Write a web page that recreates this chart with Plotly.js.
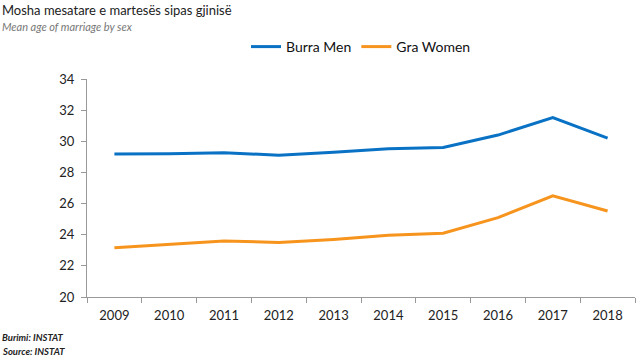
<!DOCTYPE html>
<html>
<head>
<meta charset="utf-8">
<script src="https://cdn.plot.ly/plotly-3.0.1.min.js"></script>
<style>html,body{margin:0;padding:0;background:#fff;}#chart{width:640px;height:357px;}</style>
</head>
<body>
<div id="chart"></div>
<script>
const years = ["2009","2010","2011","2012","2013","2014","2015","2016","2017","2018"];
const men = [29.18, 29.2, 29.27, 29.1, 29.3, 29.52, 29.6, 30.4, 31.52, 30.2];
const women = [23.17, 23.4, 23.6, 23.5, 23.7, 23.97, 24.1, 25.1, 26.5, 25.52];
const seriesNames = ["Burra Men", "Gra Women"];

const FONT = "Lato, 'Open Sans', sans-serif";
const traces = [
  {x: years, y: men, name: seriesNames[0], type: "scatter", mode: "lines",
   line: {color: "#0a72c4", width: 3}},
  {x: years, y: women, name: seriesNames[1], type: "scatter", mode: "lines",
   line: {color: "#f7941d", width: 3}}
];
const layout = {
  width: 640, height: 357,
  margin: {l: 87, r: 5, t: 79, b: 60},
  paper_bgcolor: "#fff", plot_bgcolor: "#fff",
  font: {family: FONT, size: 13, color: "#222"},
  showlegend: true,
  legend: {orientation: "h", x: 0.5, xanchor: "center", y: 1 + (79-47)/218, yanchor: "middle",
           font: {family: FONT, size: 14, color: "#111"}, tracegroupgap: 0},
  xaxis: {type: "category", range: [-0.5, 9.5], tickson: "boundaries", ticks: "outside", ticklen: 5,
          tickcolor: "#999", showline: true, linecolor: "#999", linewidth: 1,
          showgrid: false, zeroline: false, ticklabelstandoff: 6,
          tickfont: {size: 13, color: "#222"}},
  yaxis: {range: [20, 34], dtick: 2, ticks: "outside", ticklen: 5, tickcolor: "#999",
          showline: true, linecolor: "#999", linewidth: 1, showgrid: false, zeroline: false,
          ticklabelstandoff: 4, tickfont: {size: 13, color: "#222"}},
  annotations: [
    {text: "Mosha mesatare e martesës sipas gjinisë", xref: "paper", yref: "paper",
     x: -87/548, xanchor: "left", y: 1 + (79-10)/218, yanchor: "middle", showarrow: false,
     font: {family: FONT, size: 13, color: "#222"}},
    {text: "<i>Mean age of marriage by sex</i>", xref: "paper", yref: "paper",
     x: -87/548, xanchor: "left", y: 1 + (79-26)/218, yanchor: "middle", showarrow: false,
     font: {family: FONT, size: 11, color: "#777"}},
    {text: "<b><i>Burimi: INSTAT</i></b>", xref: "paper", yref: "paper",
     x: -87/548, xanchor: "left", y: -(337-297)/218, yanchor: "middle", showarrow: false,
     font: {family: FONT, size: 9.5, color: "#222"}},
    {text: "<b><i>Source: INSTAT</i></b>", xref: "paper", yref: "paper",
     x: -87/548, xanchor: "left", y: -(351-297)/218, yanchor: "middle", showarrow: false,
     font: {family: FONT, size: 9.5, color: "#222"}}
  ]
};
Plotly.newPlot("chart", traces, layout, {displayModeBar: false, staticPlot: true});
</script>
</body>
</html>
